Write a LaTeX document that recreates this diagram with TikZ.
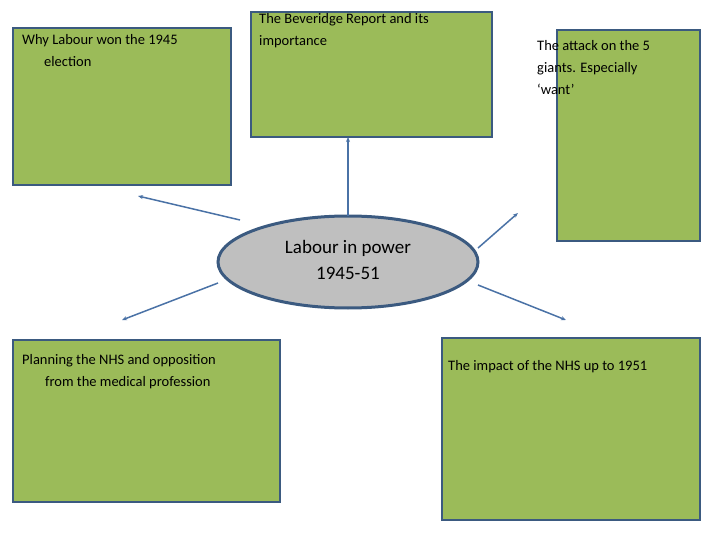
\documentclass[tikz,border=0pt]{standalone}
\usepackage{fontspec}
\setmainfont{Carlito}
\usetikzlibrary{shapes.geometric,arrows.meta}
\definecolor{boxg}{HTML}{9BBB59}
\definecolor{boxb}{HTML}{3B5A80}
\definecolor{lineb}{HTML}{4A72A6}
\definecolor{ellg}{HTML}{BFBFBF}
\begin{document}
\begin{tikzpicture}[x=1pt,y=-1pt,
  gbox/.style={draw=boxb,line width=2pt,fill=boxg},
  btext/.style={anchor=north west,align=left,font=\fontsize{14.5}{22}\selectfont,inner sep=0pt},
  conn/.style={draw=lineb,line width=1.5pt,-{Stealth[length=5pt,width=4pt]}}]
\useasboundingbox (0,0) rectangle (720,540);
\draw[gbox] (13,28) rectangle (231,185) coordinate (b1);
\draw[gbox] (251,12) rectangle (492,137) coordinate (b2);
\draw[gbox] (557,30) rectangle (700,241) coordinate (b3);
\draw[gbox] (13,340) rectangle (280,502) coordinate (b4);
\draw[gbox] (442,338) rectangle (700,520) coordinate (b5);
\node[btext] (t1) at (22,34) {Why Labour won the 1945\\\hspace*{22pt}election};
\node[btext] (t2) at (259,13) {The Beveridge Report and its\\importance};
\node[btext] (t3) at (537,40) {The attack on the 5\\giants. Especially\\‘want’};
\node[btext] (t4) at (22,354) {Planning the NHS and opposition\\\hspace*{23pt}from the medical profession};
\node[btext] (t5) at (448,360) {The impact of the NHS up to 1951};
\node[draw=boxb,line width=3pt,fill=ellg,ellipse,minimum width=260pt,minimum height=92pt] (e) at (348,262) {};
\node[font=\fontsize{19}{26}\selectfont,align=center] (et) at (348,260) {Labour in power\\1945-51};
\coordinate (s1) at (240,220); \coordinate (d1) at (138,196);
\coordinate (s2) at (348,216); \coordinate (d2) at (348,137);
\coordinate (s3) at (478,248); \coordinate (d3) at (518,213);
\coordinate (s4) at (218,283); \coordinate (d4) at (122,320);
\coordinate (s5) at (478,285); \coordinate (d5) at (566,320);
\draw[conn] (s1) -- (d1);
\draw[conn] (s2) -- (d2);
\draw[conn] (s3) -- (d3);
\draw[conn] (s4) -- (d4);
\draw[conn] (s5) -- (d5);
\end{tikzpicture}
\end{document}
